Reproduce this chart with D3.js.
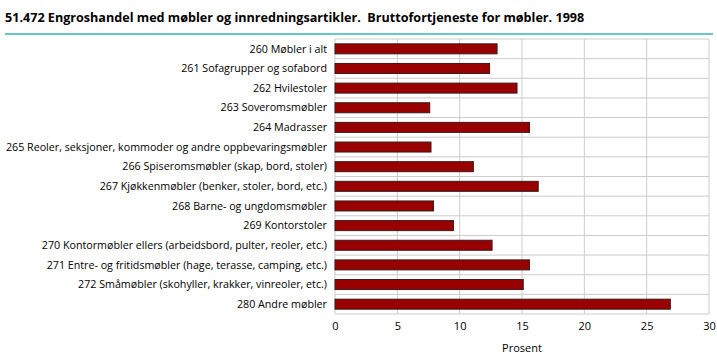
<!DOCTYPE html>
<meta charset="utf-8">
<script src="https://cdn.jsdelivr.net/npm/d3@7"></script>
<style>
body { margin: 0; background: #fff; }
text { font-family: "Open Sans", "DejaVu Sans", sans-serif; fill: #000; }
</style>
<body>
<script>
// data
var categories = [
  "260 Møbler i alt",
  "261 Sofagrupper og sofabord",
  "262 Hvilestoler",
  "263 Soveromsmøbler",
  "264 Madrasser",
  "265 Reoler, seksjoner, kommoder og andre oppbevaringsmøbler",
  "266 Spiseromsmøbler (skap, bord, stoler)",
  "267 Kjøkkenmøbler (benker, stoler, bord, etc.)",
  "268 Barne- og ungdomsmøbler",
  "269 Kontorstoler",
  "270 Kontormøbler ellers (arbeidsbord, pulter, reoler, etc.)",
  "271 Entre- og fritidsmøbler (hage, terasse, camping, etc.)",
  "272 Småmøbler (skohyller, krakker, vinreoler, etc.)",
  "280 Andre møbler"
];
var values = [13.0, 12.4, 14.6, 7.6, 15.6, 7.7, 11.1, 16.3, 7.9, 9.5, 12.6, 15.6, 15.1, 26.9];
var xTicks = [0, 5, 10, 15, 20, 25, 30];
var title = "51.472 Engroshandel med møbler og innredningsartikler.  Bruttofortjeneste for møbler. 1998";
var xTitle = "Prosent";

var width = 717, height = 362;
var margin = {top: 39, right: 8, bottom: 48, left: 335};

var svg = d3.select("body").append("svg")
    .attr("width", width)
    .attr("height", height);

// title + teal rule
svg.append("text")
    .attr("x", 5).attr("y", 22)
    .attr("font-size", 12.6).attr("font-weight", "bold")
    .style("white-space", "pre")
    .text(title);
svg.append("line")
    .attr("x1", 5).attr("x2", 713)
    .attr("y1", 34).attr("y2", 34)
    .attr("stroke", "#66c9c6").attr("stroke-width", 2);

var x = d3.scaleLinear().domain([0, 30]).range([margin.left, width - margin.right]);

var plotTop = margin.top, plotBottom = height - margin.bottom;
var bandH = (plotBottom - plotTop) / categories.length;
var g = svg.append("g");

// vertical gridlines
g.selectAll(".vgrid").data(xTicks).enter().append("line")
    .attr("class", "vgrid")
    .attr("x1", function(d){ return x(d); }).attr("x2", function(d){ return x(d); })
    .attr("y1", plotTop).attr("y2", plotBottom)
    .attr("stroke", "#cccccc").attr("stroke-width", 1);

// horizontal gridlines between bands
g.selectAll(".hgrid").data(d3.range(categories.length + 1)).enter().append("line")
    .attr("class", "hgrid")
    .attr("x1", x(0)).attr("x2", x(30))
    .attr("y1", function(i){ return plotTop + i * bandH; })
    .attr("y2", function(i){ return plotTop + i * bandH; })
    .attr("stroke", "#cccccc").attr("stroke-width", 1);

// bars
g.selectAll(".bar").data(values).enter().append("rect")
    .attr("class", "bar")
    .attr("x", x(0))
    .attr("y", function(d, i){ return plotTop + i * bandH + bandH / 2 - 5; })
    .attr("width", function(d){ return x(d) - x(0); })
    .attr("height", 10)
    .attr("fill", "#990000")
    .attr("stroke", "#3a1a1a").attr("stroke-width", 1);

// category labels
g.selectAll(".cat").data(categories).enter().append("text")
    .attr("class", "cat")
    .attr("x", margin.left - 8)
    .attr("y", function(d, i){ return plotTop + i * bandH + bandH / 2; })
    .attr("dy", "0.35em")
    .attr("text-anchor", "end")
    .attr("font-size", 10.7)
    .text(function(d){ return d; });

// x axis labels
var xAxis = d3.axisBottom(x).tickValues(xTicks).tickSize(0).tickPadding(8);
var ax = svg.append("g")
    .attr("transform", "translate(0," + plotBottom + ")")
    .call(xAxis);
ax.select(".domain").remove();
ax.selectAll("text").attr("font-size", 11).attr("font-family", null).attr("fill", "#000");

svg.append("text")
    .attr("x", x(15)).attr("y", 352)
    .attr("text-anchor", "middle")
    .attr("font-size", 11)
    .text(xTitle);
</script>
</body>
